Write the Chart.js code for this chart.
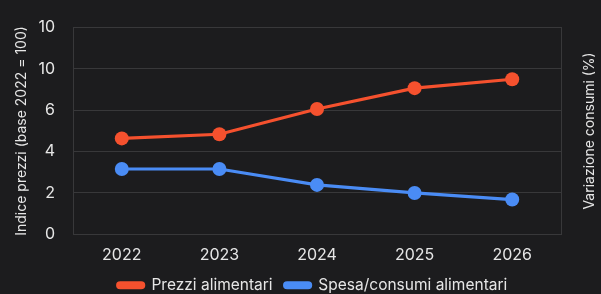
<!DOCTYPE html>
<html>
<head>
<meta charset="utf-8">
<script src="https://cdn.jsdelivr.net/npm/chart.js@4"></script>
<style>
  html, body { margin: 0; padding: 0; background: #1c1c1e; }
  #wrap { width: 601px; height: 294px; }
</style>
</head>
<body>
<div id="wrap"><canvas id="graph"></canvas></div>
<script>
const anni = ['2022', '2023', '2024', '2025', '2026'];
const prezziAlimentari = [4.64, 4.84, 6.06, 7.07, 7.5];
const spesaConsumi = [3.16, 3.16, 2.39, 2.0, 1.68];
const tickValori = [0, 2, 4, 6, 8, 10];
const tickEtichette = ['0', '2', '4', '6', '10', '10'];

const rosso = '#f5512e';
const blu = '#4a8cf5';
const griglia = '#38383a';
const testo = '#e6e6e6';
const titoloDestra = 'Variazione consumi (%)';

Chart.defaults.font.family = 'Inter, "Open Sans", sans-serif';
Chart.defaults.color = testo;

// legenda meno alta e spostata, titolo destro letto dal basso verso l'alto
const ritocchi = {
  id: 'ritocchi',
  afterInit(chart) {
    const l = chart.legend;
    const fit = l.fit;
    l.fit = function () {
      fit.call(this);
      this.height -= 9;
    };
  },
  afterLayout(chart) {
    chart.legend.left += 10;
    chart.legend.right += 10;
  },
  afterDraw(chart) {
    const ctx = chart.ctx;
    const a = chart.chartArea;
    ctx.save();
    ctx.translate(590, (a.top + a.bottom) / 2);
    ctx.rotate(-Math.PI / 2);
    ctx.fillStyle = testo;
    ctx.font = '14px Inter, "Open Sans", sans-serif';
    ctx.textAlign = 'center';
    ctx.textBaseline = 'middle';
    ctx.fillText(titoloDestra, 0, 0);
    ctx.restore();
  }
};

const graph = document.getElementById('graph');

var graphLine = new Chart(graph, {
  type: 'line',
  data: {
    labels: anni,
    datasets: [{
      label: 'Prezzi alimentari',
      data: prezziAlimentari,
      borderColor: rosso,
      backgroundColor: rosso,
      borderWidth: 3.2,
      pointRadius: 7,
      pointBackgroundColor: rosso,
      pointBorderWidth: 0,
      tension: 0
    }, {
      label: 'Spesa/consumi alimentari',
      data: spesaConsumi,
      borderColor: blu,
      backgroundColor: blu,
      borderWidth: 3.2,
      pointRadius: 7,
      pointBackgroundColor: blu,
      pointBorderWidth: 0,
      tension: 0
    }]
  },
  plugins: [ritocchi],
  options: {
    responsive: true,
    maintainAspectRatio: false,
    animation: false,
    layout: {
      autoPadding: false,
      padding: { left: 4, right: 0, top: 20, bottom: 0 }
    },
    plugins: {
      legend: {
        position: 'bottom',
        labels: {
          color: testo,
          boxWidth: 26,
          boxHeight: 5,
          useBorderRadius: true,
          borderRadius: 2.5,
          padding: 12,
          font: { size: 15.5 }
        }
      },
      tooltip: { enabled: false }
    },
    scales: {
      x: {
        offset: true,
        afterFit: function (ax) {
          ax.height = ax.height - 2;
        },
        grid: { display: false },
        border: { display: true, color: griglia },
        ticks: { color: testo, font: { size: 16 }, padding: 3 }
      },
      y: {
        min: 0,
        max: 10,
        afterBuildTicks: function (ax) {
          ax.ticks = tickValori.map(v => ({ value: v }));
        },
        afterFit: function (ax) {
          ax.width = 69;
        },
        grid: { color: griglia, drawTicks: false },
        border: { display: true, color: griglia },
        ticks: {
          color: testo,
          font: { size: 16 },
          padding: 18,
          callback: function (v) {
            const i = tickValori.indexOf(v);
            return i >= 0 ? tickEtichette[i] : '';
          }
        },
        title: {
          display: true,
          text: 'Indice prezzi (base 2022 = 100)',
          color: testo,
          font: { size: 14 },
          padding: { top: 9, bottom: 0 }
        }
      },
      y1: {
        position: 'right',
        min: 0,
        max: 10,
        afterFit: function (ax) {
          ax.width = 40;
        },
        grid: { display: false, drawTicks: false },
        border: { display: true, color: griglia },
        ticks: { display: false }
      }
    }
  }
});
</script>
</body>
</html>
